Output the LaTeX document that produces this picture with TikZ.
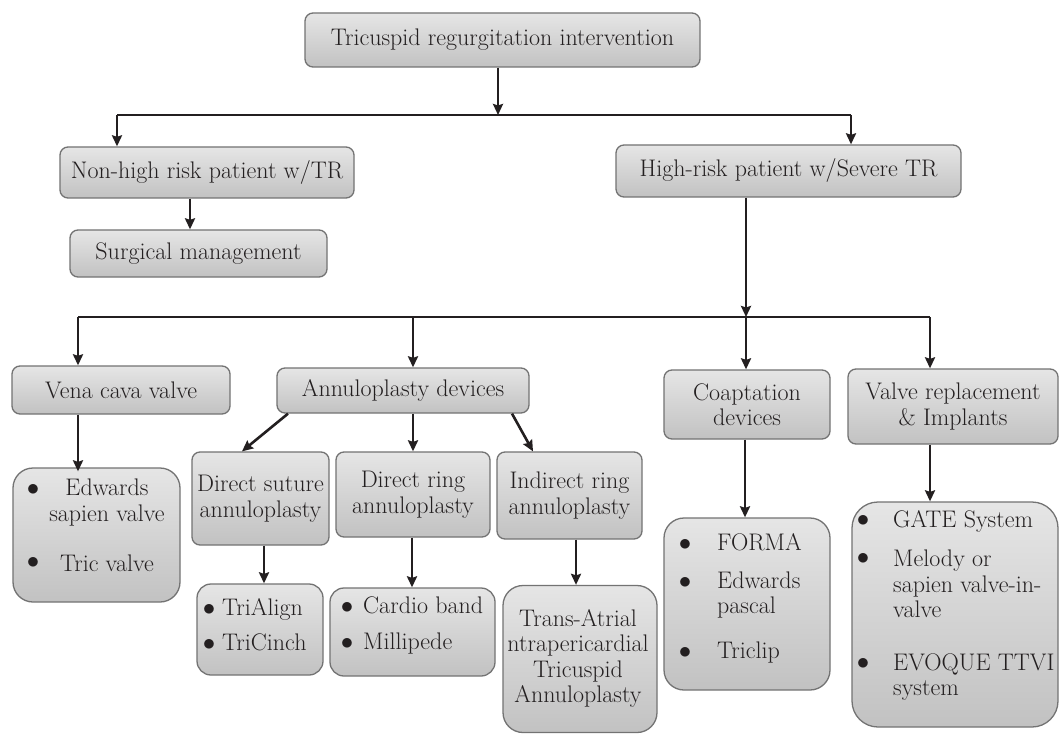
\documentclass[tikz,border=0pt]{standalone}
\usetikzlibrary{arrows.meta}
\definecolor{ink}{HTML}{231F20}
\newcommand\fs{\fontsize{24}{25.5}\selectfont}
\begin{document}
\begin{tikzpicture}[x=1pt,y=-1pt,
 box/.style={draw=black!55, line width=1.3pt, rounded corners=8pt, top color=black!10, bottom color=black!24, inner sep=0pt, align=center, font=\fs, text=ink},
 lbox/.style={box, rounded corners=20pt},
 arr/.style={draw=ink, line width=2.6pt, -{Stealth[length=11pt,width=10pt,inset=1.5pt]}},
 ln/.style={draw=ink, line width=2.6pt},
 txt/.style={font=\fs, text=ink, inner sep=0pt, align=center},
 lt/.style={font=\fs, text=ink, inner sep=0pt, anchor=west, text height=16pt, text depth=5pt},
 bul/.style={font=\fs, text=ink, inner sep=0pt}]
\fill[white] (0,0) rectangle (1059,735);
\useasboundingbox (0,0) rectangle (1059,735);

% boxes
\node[box, minimum width=395, minimum height=54] (top) at (502.5,40) {Tricuspid regurgitation intervention};
\node[box, minimum width=294, minimum height=51] (nonhigh) at (207,172.5) {Non-high risk patient w/TR};
\node[box, minimum width=257, minimum height=47] (surg) at (198.5,253.5) {Surgical management};
\node[box, minimum width=345, minimum height=52] (high) at (788.5,171) {High-risk patient w/Severe TR};
\node[box, minimum width=218, minimum height=48] (vena) at (121,390) {Vena cava valve};
\node[lbox, minimum width=167, minimum height=134] (edw) at (96.5,535) {};
\node[box, minimum width=252, minimum height=45] (annu) at (403,390.5) {Annuloplasty devices};
\node[box, minimum width=137, minimum height=93] (dsut) at (260.5,498.5) {Direct suture\\annuloplasty};
\node[box, minimum width=154, minimum height=85] (dring) at (413,494.5) {Direct ring\\annuloplasty};
\node[box, minimum width=145, minimum height=87] (indr) at (569.5,495.5) {Indirect ring\\annuloplasty};
\node[box, rounded corners=14pt, minimum width=126, minimum height=91] (tria) at (260,629.5) {};
\node[box, rounded corners=14pt, minimum width=165, minimum height=88] (cardio) at (412.5,632) {};
\node[lbox, minimum width=154, minimum height=147] (trans) at (580,659) {};
\node[box, minimum width=166, minimum height=69] (coap) at (747,404.5) {Coaptation\\devices};
\node[lbox, minimum width=166, minimum height=172] (forma) at (747,604) {};
\node[box, minimum width=210, minimum height=75] (valve) at (953,406.5) {Valve replacement\\\& Implants};
\node[lbox, rounded corners=26pt, minimum width=206, minimum height=225] (gate) at (955,614.5) {};

% list contents
\node[bul] (b1) at (33,490) {$\bullet$};
\node[bul] (b2) at (33,563) {$\bullet$};
\node[txt] (t1) at (107,502.5) {Edwards\\sapien valve};
\node[txt] (t2) at (107,563) {Tric valve};

\node[bul] (b3) at (209,610) {$\bullet$};
\node[bul] (b4) at (209,645) {$\bullet$};
\node[lt] (t3) at (222,610) {TriAlign};
\node[lt] (t4) at (222,645) {TriCinch};

\node[bul] (b5) at (347,608) {$\bullet$};
\node[bul] (b6) at (347,644) {$\bullet$};
\node[lt] (t5) at (363,608) {Cardio band};
\node[lt] (t6) at (363,644) {Millipede};

\node[txt] (t7) at (578,658.5) {Trans-Atrial\\ntrapericardial\\Tricuspid\\Annuloplasty};

\node[bul] (b7) at (685,545) {$\bullet$};
\node[bul] (b8) at (685,583) {$\bullet$};
\node[bul] (b9) at (685,653) {$\bullet$};
\node[lt] (t8) at (717,545) {FORMA};
\node[lt] (t9) at (717,583) {Edwards};
\node[lt] (t10) at (717,608) {pascal};
\node[lt] (t11) at (717,653) {Triclip};

\node[bul] (b10) at (863,521) {$\bullet$};
\node[bul] (b11) at (863,559) {$\bullet$};
\node[bul] (b12) at (863,664) {$\bullet$};
\node[lt] (t12) at (893,522) {GATE System};
\node[lt] (t13) at (893,561) {Melody or};
\node[lt] (t14) at (893,587) {sapien valve-in-};
\node[lt] (t15) at (893,612) {valve};
\node[lt] (t16) at (893,665) {EVOQUE TTVI};
\node[lt] (t17) at (893,690) {system};

% connector coordinates
\coordinate (j1) at (498,115);
\coordinate (l1) at (117,115);
\coordinate (r1) at (851,115);
\coordinate (j2) at (746,317);
\coordinate (l2) at (78,317);
\coordinate (r2) at (930,317);
\coordinate (a2) at (413,317);

% connectors
\draw[arr] (top.south -| j1) -- (j1);
\draw[ln] (l1) -- (r1);
\draw[arr] (l1) -- (l1 |- nonhigh.north);
\draw[arr] (r1) -- (r1 |- high.north);
\draw[arr] (nonhigh.south -| 190,0) -- (surg.north -| 190,0);
\draw[arr] (high.south -| j2) -- (j2);
\draw[ln] (l2) -- (r2);
\draw[arr] (l2) -- (l2 |- vena.north);
\draw[arr] (a2) -- (a2 |- annu.north);
\draw[arr] (j2) -- (j2 |- coap.north);
\draw[arr] (r2) -- (r2 |- valve.north);
\draw[arr] (vena.south -| l2) -- ([yshift=-4pt]edw.north -| l2);
\draw[arr] (annu.south -| 288,0) -- (dsut.north -| 242,0);
\draw[arr] (annu.south -| 413,0) -- (dring.north -| 413,0);
\draw[arr] (annu.south -| 512,0) -- (indr.north -| 533,0);
\draw[arr] (dsut.south -| 264,0) -- (tria.north -| 264,0);
\draw[arr] (dring.south -| 412,0) -- (cardio.north -| 412,0);
\draw[arr] (indr.south -| 576,0) -- (trans.north -| 576,0);
\draw[arr] (coap.south -| 745,0) -- (forma.north -| 745,0);
\draw[arr] (valve.south -| r2) -- (gate.north -| r2);
\end{tikzpicture}
\end{document}
